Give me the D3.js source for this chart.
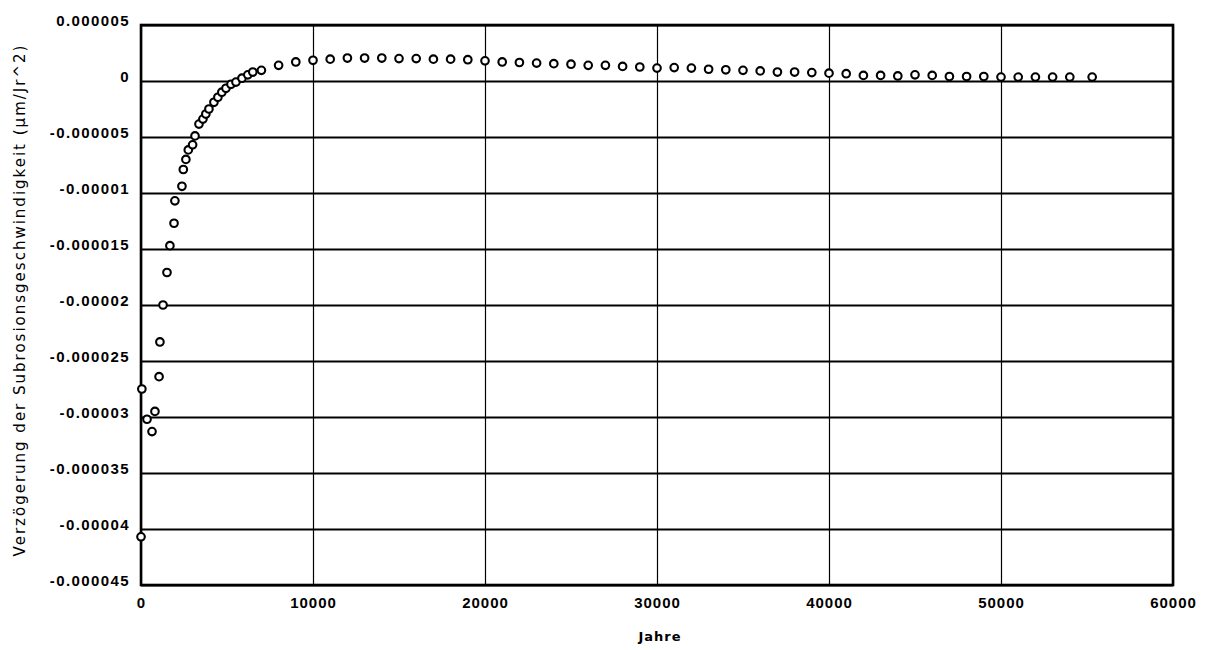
<!DOCTYPE html>
<html>
<head>
<meta charset="utf-8">
<script src="https://cdn.jsdelivr.net/npm/d3@7"></script>
<style>
  body { margin: 0; background: #fff; }
</style>
</head>
<body>
<div id="chart"></div>
<script>
// Jahre (x) und Verzögerung der Subrosionsgeschwindigkeit (y, µm/Jr^2)
const jahre = [
  0, 50, 350, 640, 810, 1050, 1100, 1280, 1510, 1680, 1920, 1970, 2380, 2460, 2610, 2750,
  3000, 3140, 3370, 3600, 3770, 3950, 4240, 4470, 4700, 4940, 5230, 5520, 5870, 6210, 6500,
  7000, 8000, 9000, 10000, 11000, 12000, 13000, 14000, 15000, 16000, 17000, 18000, 19000,
  20000, 21000, 22000, 23000, 24000, 25000, 26000, 27000, 28000, 29000, 30000, 31000, 32000,
  33000, 34000, 35000, 36000, 37000, 38000, 39000, 40000, 41000, 42000, 43000, 44000, 45000,
  46000, 47000, 48000, 49000, 50000, 51000, 52000, 53000, 54000, 55300
];
const werte = [
  -40.7e-6, -27.5e-6, -30.2e-6, -31.3e-6, -29.5e-6, -26.4e-6, -23.3e-6, -20.0e-6, -17.1e-6,
  -14.7e-6, -12.7e-6, -10.7e-6, -9.4e-6, -7.9e-6, -7.0e-6, -6.15e-6,
  -5.7e-6, -4.9e-6, -3.85e-6, -3.4e-6, -2.95e-6, -2.5e-6, -1.9e-6, -1.45e-6, -1.0e-6,
  -0.65e-6, -0.3e-6, -0.1e-6, 0.25e-6, 0.55e-6, 0.8e-6,
  0.95e-6, 1.4e-6, 1.7e-6, 1.85e-6, 1.95e-6, 2.05e-6, 2.05e-6, 2.05e-6, 2.0e-6, 2.0e-6,
  1.95e-6, 1.95e-6, 1.9e-6,
  1.8e-6, 1.7e-6, 1.65e-6, 1.6e-6, 1.55e-6, 1.5e-6, 1.4e-6, 1.4e-6, 1.3e-6, 1.25e-6,
  1.15e-6, 1.2e-6, 1.15e-6,
  1.05e-6, 1.0e-6, 0.95e-6, 0.9e-6, 0.8e-6, 0.8e-6, 0.75e-6, 0.7e-6, 0.65e-6, 0.5e-6,
  0.5e-6, 0.45e-6, 0.55e-6,
  0.5e-6, 0.4e-6, 0.4e-6, 0.4e-6, 0.35e-6, 0.35e-6, 0.35e-6, 0.35e-6, 0.35e-6, 0.35e-6
];

const yTicks = [5e-6, 0, -5e-6, -10e-6, -15e-6, -20e-6, -25e-6, -30e-6, -35e-6, -40e-6, -45e-6];
const yTickLabels = ["0.000005", "0", "-0.000005", "-0.00001", "-0.000015", "-0.00002",
  "-0.000025", "-0.00003", "-0.000035", "-0.00004", "-0.000045"];
const xTicks = [0, 10000, 20000, 30000, 40000, 50000, 60000];
const xTickLabels = ["0", "10000", "20000", "30000", "40000", "50000", "60000"];

const width = 1209;
const height = 650;
const marginTop = 25;
const marginRight = 36;
const marginBottom = 65;
const marginLeft = 141;

const data = jahre.map((j, i) => ({ jahr: j, wert: werte[i] }));

const x = d3.scaleLinear()
  .domain([0, 60000])
  .range([marginLeft, width - marginRight]);

const y = d3.scaleLinear()
  .domain([-45e-6, 5e-6])
  .range([height - marginBottom, marginTop]);

const svg = d3.select("#chart")
  .append("svg")
  .attr("width", width)
  .attr("height", height)
  .attr("viewBox", [0, 0, width, height])
  .style("font-family", "'DejaVu Sans', sans-serif");

// horizontale Gitterlinien + y-Achse
svg.append("g")
  .attr("transform", `translate(${marginLeft},0)`)
  .call(d3.axisLeft(y)
    .tickValues(yTicks)
    .tickSize(-(width - marginLeft - marginRight))
    .tickPadding(11)
    .tickFormat((d, i) => yTickLabels[i]))
  .call(g => g.select(".domain").remove())
  .call(g => g.selectAll(".tick line").attr("stroke", "#000").attr("stroke-width", 1.8))
  .call(g => g.selectAll(".tick text")
    .attr("fill", "#000")
    .attr("font-size", 15)
    .attr("font-weight", "bold")
    .attr("letter-spacing", 1.4)
    .attr("dy", "0.05em"));

// vertikale Gitterlinien + x-Achse
svg.append("g")
  .attr("transform", `translate(0,${height - marginBottom})`)
  .call(d3.axisBottom(x)
    .tickValues(xTicks)
    .tickSize(-(height - marginTop - marginBottom))
    .tickPadding(12)
    .tickFormat((d, i) => xTickLabels[i]))
  .call(g => g.select(".domain").remove())
  .call(g => g.selectAll(".tick line").attr("stroke", "#000").attr("stroke-width", 1.2))
  .call(g => g.selectAll(".tick text")
    .attr("fill", "#000")
    .attr("font-size", 15)
    .attr("font-weight", "bold")
    .attr("letter-spacing", 1));

// Rahmen
svg.append("rect")
  .attr("x", marginLeft)
  .attr("y", marginTop)
  .attr("width", width - marginLeft - marginRight)
  .attr("height", height - marginTop - marginBottom)
  .attr("fill", "none")
  .attr("stroke", "#000")
  .attr("stroke-width", 2.6);

// Punkte
svg.append("g")
  .selectAll("circle")
  .data(data)
  .join("circle")
    .attr("cx", d => x(d.jahr))
    .attr("cy", d => y(d.wert))
    .attr("r", 3.8)
    .attr("fill", "#fff")
    .attr("stroke", "#000")
    .attr("stroke-width", 2.1);

// Achsentitel
svg.append("text")
  .attr("x", 660)
  .attr("y", 641)
  .attr("text-anchor", "middle")
  .attr("font-size", 13)
  .attr("font-weight", "bold")
  .attr("letter-spacing", 1)
  .text("Jahre");

svg.append("text")
  .attr("transform", `translate(25,300) rotate(-90)`)
  .attr("text-anchor", "middle")
  .attr("font-size", 15)
  .attr("letter-spacing", 2)
  .text("Verzögerung der Subrosionsgeschwindigkeit (µm/Jr^2)");
</script>
</body>
</html>
